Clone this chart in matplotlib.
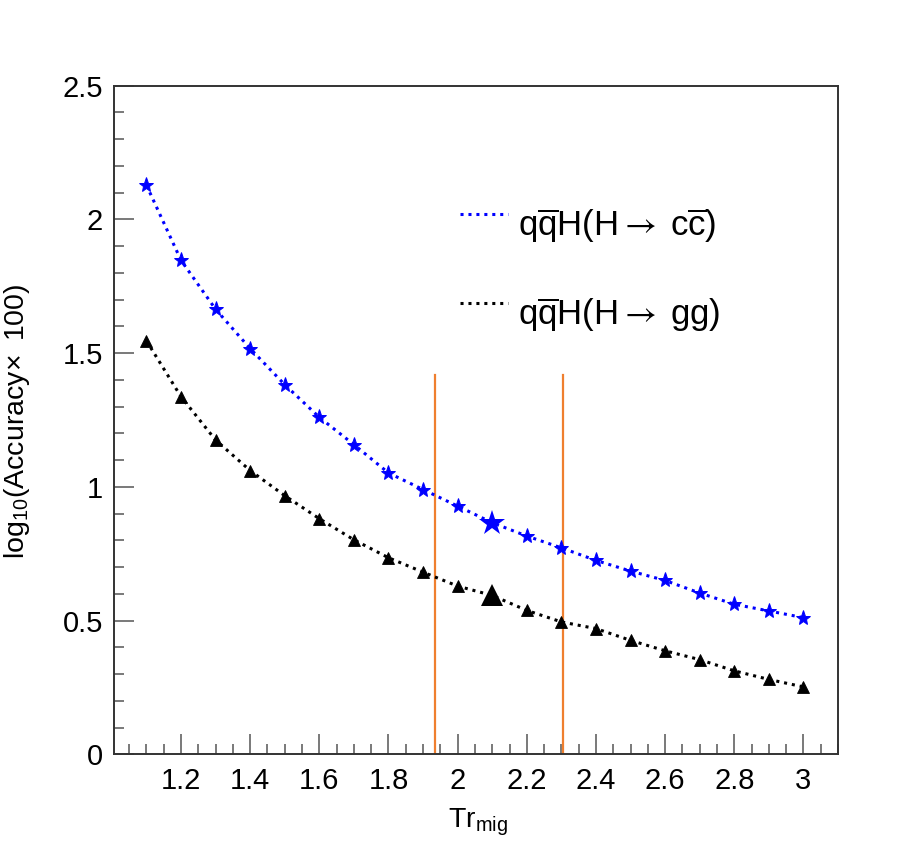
import matplotlib
matplotlib.use("Agg")
import matplotlib.pyplot as plt
from matplotlib.ticker import MultipleLocator, FuncFormatter

plt.rcParams['font.family'] = ['Liberation Sans', 'DejaVu Sans']
plt.rcParams['mathtext.fontset'] = 'custom'
plt.rcParams['mathtext.rm'] = 'Liberation Sans'
plt.rcParams['mathtext.it'] = 'Liberation Sans:italic'
plt.rcParams['mathtext.bf'] = 'Liberation Sans:bold'
plt.rcParams['mathtext.sf'] = 'STIXGeneral'
plt.rcParams['mathtext.fallback'] = 'stix'

# ---- data ----
tr_mig = [1.1, 1.2, 1.3, 1.4, 1.5, 1.6, 1.7, 1.8, 1.9, 2.0,
          2.1, 2.2, 2.3, 2.4, 2.5, 2.6, 2.7, 2.8, 2.9, 3.0]
acc_cc = [2.128, 1.847, 1.664, 1.517, 1.382, 1.260, 1.158, 1.052, 0.990, 0.928,
          0.866, 0.816, 0.772, 0.725, 0.685, 0.650, 0.603, 0.561, 0.536, 0.511]
acc_gg = [1.546, 1.337, 1.175, 1.061, 0.967, 0.881, 0.802, 0.735, 0.681, 0.629,
          0.594, 0.538, 0.495, 0.470, 0.426, 0.387, 0.354, 0.312, 0.280, 0.252]
highlight_index = 10
cut_lines_x = [1.935, 2.305]
cut_lines_ytop = 1.42
label_cc = r'$\mathregular{q\overline{q}H(H\mathsf{\rightarrow}\;c\overline{c})}$'
label_gg = r'$\mathregular{q\overline{q}H(H\mathsf{\rightarrow}\;gg)}$'

W, H = 903, 867
fig = plt.figure(figsize=(W / 100, H / 100), dpi=100)
ax_l, ax_r, ax_t, ax_b = 114.3, 838.0, 85.7, 754.3
ax = fig.add_axes([ax_l / W, 1 - ax_b / H, (ax_r - ax_l) / W, (ax_b - ax_t) / H])

ax.set_xlim(1.007, 3.1)
ax.set_ylim(0, 2.5)

# cut lines
for xc in cut_lines_x:
    ax.plot([xc, xc], [0, cut_lines_ytop], color='#EF7F2F', lw=1.6, zorder=2)

# series
ax.plot(tr_mig, acc_cc, color='#0000FF', ls=(0, (1, 1.6)), lw=2.2,
        marker='*', ms=11, mec='#0000FF', mfc='#0000FF', mew=0.7, zorder=3)
ax.plot(tr_mig, acc_gg, color='black', ls=(0, (1, 1.6)), lw=2.2,
        marker='^', ms=9, mec='black', mfc='black', mew=0.6, zorder=3)
ax.plot([tr_mig[highlight_index]], [acc_cc[highlight_index]], ls='none',
        marker='*', ms=19, color='#0000FF', mew=0, zorder=4)
ax.plot([tr_mig[highlight_index]], [acc_gg[highlight_index]], ls='none',
        marker='^', ms=16, color='black', mew=0, zorder=4)

# legend (manual)
def px2ax(x, y):
    return (x - ax_l) / (ax_r - ax_l), (ax_b - y) / (ax_b - ax_t)

for (ly, ty, col, lab) in [(214, 236, '#0000FF', label_cc), (303, 325, 'black', label_gg)]:
    x0, y0 = px2ax(460, ly)
    x1, _ = px2ax(508, ly)
    ax.plot([x0, x1], [y0, y0], transform=ax.transAxes, color=col,
            ls=(0, (1, 1.6)), lw=2.2)
    tx, tyy = px2ax(518, ty)
    ax.text(tx, tyy, lab, transform=ax.transAxes, fontsize=25,
            ha='left', va='baseline', color='black')

# ticks
ax.xaxis.set_minor_locator(MultipleLocator(0.05))
ax.yaxis.set_major_locator(MultipleLocator(0.5))
ax.yaxis.set_minor_locator(MultipleLocator(0.1))
fmt = FuncFormatter(lambda v, p: ('%g' % round(v, 3)))
ax.set_xticks([1.2, 1.4, 1.6, 1.8, 2.0, 2.2, 2.4, 2.6, 2.8, 3.0])
ax.xaxis.set_major_formatter(fmt)
ax.yaxis.set_major_formatter(fmt)
ax.tick_params(which='both', direction='in', top=False, right=False,
               color='#555555', width=1.1)
ax.tick_params(which='major', length=14.4, labelsize=21)
ax.tick_params(which='minor', length=7.2)
ax.tick_params(axis='x', which='major', pad=9)
ax.tick_params(axis='y', which='major', pad=8)
for s in ax.spines.values():
    s.set_linewidth(1.4)
    s.set_color('#333333')

# axis titles
fig.text(478 / W, 1 - 822 / H, r'$\mathregular{Tr_{mig}}$', fontsize=20.5,
         ha='center', va='center')
fig.text(17 / W, 1 - 421 / H, r'$\mathregular{log_{10}(Accuracy\!\times\ 100)}$',
         fontsize=20.5, rotation=90, ha='center', va='center')

fig.savefig('out.png', dpi=100, facecolor='white')
